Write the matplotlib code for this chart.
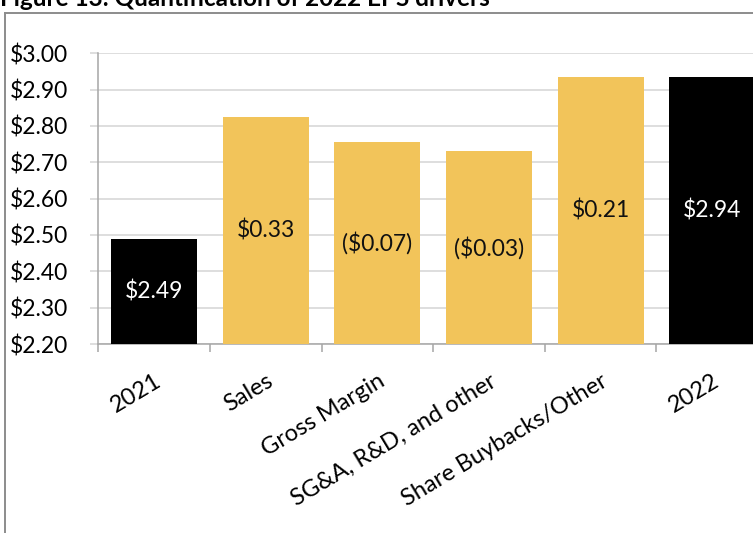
import matplotlib
matplotlib.use("Agg")
import matplotlib.pyplot as plt
from matplotlib.lines import Line2D

# EPS bridge 2021 -> 2022 (bar tops)
categories = ["2021", "Sales", "Gross Margin", "SG&A, R&D, and other",
              "Share Buybacks/Other", "2022"]
bar_tops = [2.49, 2.825, 2.755, 2.73, 2.935, 2.935]
bar_labels = ["$2.49", "$0.33", "($0.07)", "($0.03)", "$0.21", "$2.94"]
is_total = [True, False, False, False, False, True]

y_ticks = [2.20, 2.30, 2.40, 2.50, 2.60, 2.70, 2.80, 2.90, 3.00]
y_min, y_max = 2.20, 3.00

GOLD = "#F2C45A"
BLACK = "#000000"
GRID = "#D4D4D4"
AXIS = "#A6A6A6"
FS = 16.5

plt.rcParams["font.family"] = ["Lato", "DejaVu Sans"]

W, H = 753, 533
fig = plt.figure(figsize=(W / 100, H / 100), dpi=100)

# axes area runs past the right edge of the picture (the source was cropped)
left, right, top, bottom = 98.3, 768.0, 53.3, 344.0
ax = fig.add_axes([left / W, (H - bottom) / H, (right - left) / W, (bottom - top) / H])

x = list(range(len(categories)))
colors = [BLACK if t else GOLD for t in is_total]
heights = [v - y_min for v in bar_tops]
ax.bar(x, heights, bottom=y_min, width=0.77, color=colors, zorder=3)

for xi, v, lab, t in zip(x, bar_tops, bar_labels, is_total):
    ax.text(xi, (y_min + v) / 2, lab, ha="center", va="center",
            fontsize=FS, color="white" if t else "#111111", zorder=4)

ax.set_xlim(-0.5, len(categories) - 0.5)
ax.set_ylim(y_min, y_max)
ax.set_yticks(y_ticks)
ax.set_yticklabels([f"${v:.2f}" for v in y_ticks], fontsize=FS)
ax.yaxis.grid(True, color=GRID, linewidth=1.1, zorder=0)
ax.set_axisbelow(True)

# category ticks sit on the boundaries between bars, labels under the bar centre
ax.set_xticks([i - 0.5 for i in range(len(categories) + 1)])
ax.set_xticklabels([])
ax.set_xticks(x, minor=True)
ax.set_xticklabels(categories, minor=True, rotation=31, ha="right", va="top",
                   rotation_mode="anchor", fontsize=17)
ax.tick_params(axis="x", which="minor", length=0, pad=19)
ax.tick_params(axis="x", which="major", length=6, width=1.1, color=AXIS)
ax.tick_params(axis="y", length=6, width=1.1, color=GRID, pad=15.5)

for side in ("top", "right"):
    ax.spines[side].set_visible(False)
for side in ("left", "bottom"):
    ax.spines[side].set_color(AXIS)
    ax.spines[side].set_linewidth(1.1)

# outer frame and the cropped figure caption
fx0, fy0 = 5.3 / W, (H - 12.7) / H
fig.add_artist(Line2D([fx0, fx0], [0, fy0], color="#8C8C8C", linewidth=1.4,
                      transform=fig.transFigure))
fig.add_artist(Line2D([fx0, 1], [fy0, fy0], color="#8C8C8C", linewidth=1.4,
                      transform=fig.transFigure))
fig.text(0.5 / W, (H - 6) / H, "Figure 13: Quantification of 2022 EPS drivers",
         fontsize=17.5, fontweight="bold", ha="left", va="baseline")

fig.savefig("out.png", dpi=100)
